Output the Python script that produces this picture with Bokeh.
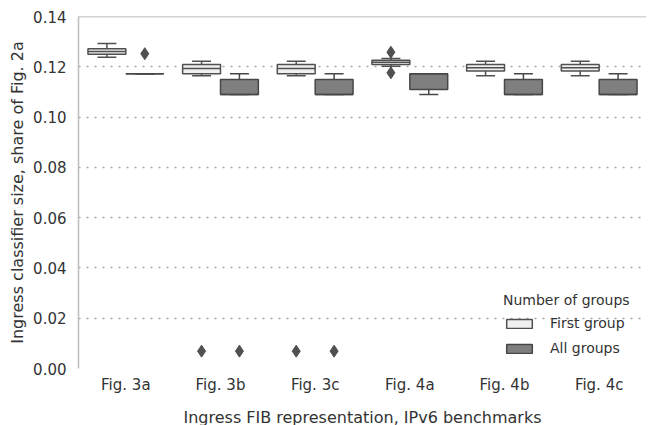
from bokeh.plotting import figure
from bokeh.models import (FactorRange, Range1d, Legend, LegendItem, Span,
                          SingleIntervalTicker, NumeralTickFormatter, ColumnDataSource)
from bokeh.transform import dodge
from bokeh.embed import file_html
from bokeh.resources import INLINE

categories = ["Fig. 3a", "Fig. 3b", "Fig. 3c", "Fig. 4a", "Fig. 4b", "Fig. 4c"]
hues = ["First group", "All groups"]

# First group box statistics
first_low = [0.1238, 0.1164, 0.1164, 0.1202, 0.1164, 0.1164]
first_q1 = [0.1250, 0.1172, 0.1172, 0.1209, 0.1183, 0.1183]
first_med = [0.1261, 0.1193, 0.1193, 0.1218, 0.1196, 0.1196]
first_q3 = [0.1272, 0.1209, 0.1209, 0.1226, 0.1209, 0.1209]
first_high = [0.1293, 0.1222, 0.1222, 0.1233, 0.1222, 0.1222]
first_out_cat = ["Fig. 3b", "Fig. 3c", "Fig. 4a", "Fig. 4a"]
first_out_val = [0.0069, 0.0069, 0.1258, 0.1176]

# All groups box statistics
all_low = [0.1172, 0.1090, 0.1090, 0.1090, 0.1090, 0.1090]
all_q1 = [0.1172, 0.1090, 0.1090, 0.1110, 0.1090, 0.1090]
all_med = [0.1172, 0.1090, 0.1090, 0.1172, 0.1090, 0.1090]
all_q3 = [0.1172, 0.1149, 0.1149, 0.1172, 0.1149, 0.1149]
all_high = [0.1172, 0.1172, 0.1172, 0.1172, 0.1172, 0.1172]
all_out_cat = ["Fig. 3a", "Fig. 3b", "Fig. 3c"]
all_out_val = [0.1252, 0.0069, 0.0069]

FONT = "DejaVu Sans"
TEXT = "#333333"

p = figure(x_range=FactorRange(factors=categories), y_range=Range1d(0, 0.14),
           width=646, height=429, output_backend="svg", toolbar_location=None,
           min_border_left=78, min_border_right=0, min_border_top=16, min_border_bottom=61)
p.outline_line_color = None
p.background_fill_color = "white"
p.border_fill_color = "white"

p.xgrid.grid_line_color = None
p.ygrid.grid_line_color = "#a8a8a8"
p.ygrid.grid_line_dash = "2 6"
p.ygrid.grid_line_width = 1.5

p.yaxis.ticker = SingleIntervalTicker(interval=0.02)
p.yaxis.formatter = NumeralTickFormatter(format="0.00")
p.yaxis.axis_line_color = "#bdbdbd"
p.yaxis.axis_line_width = 1.5
p.yaxis.major_label_standoff = 12
p.yaxis.axis_label = "Ingress classifier size, share of Fig. 2a"
p.yaxis.axis_label_standoff = 3

p.xaxis.axis_line_color = None
p.xaxis.major_label_standoff = 7
p.xaxis.axis_label = "Ingress FIB representation, IPv6 benchmarks"
p.xaxis.axis_label_standoff = 11

for ax in (p.xaxis, p.yaxis):
    ax.major_tick_line_color = None
    ax.minor_tick_line_color = None
    ax.major_tick_out = 0
    ax.major_tick_in = 0
    ax.minor_tick_out = 0
    ax.minor_tick_in = 0
    ax.major_label_text_font = FONT
    ax.major_label_text_font_size = "15px"
    ax.major_label_text_color = TEXT
    ax.axis_label_text_font = FONT
    ax.axis_label_text_font_size = "16px"
    ax.axis_label_text_font_style = "normal"
    ax.axis_label_text_color = TEXT

p.add_layout(Span(location=0.14, dimension="width", line_color="#a8a8a8", line_width=1.5))

specs = [
    (-0.2, first_low, first_q1, first_med, first_q3, first_high, "#f0f0f0", "#505050"),
    (0.2, all_low, all_q1, all_med, all_q3, all_high, "#7f7f7f", "#474747"),
]
box_renderers = []
for off, lo, q1, med, q3, hi, fill, edge in specs:
    src = ColumnDataSource(dict(cat=categories, lo=lo, q1=q1, med=med, q3=q3, hi=hi))
    xc = dodge("cat", off, range=p.x_range)
    xl = dodge("cat", off - 0.1, range=p.x_range)
    xr = dodge("cat", off + 0.1, range=p.x_range)
    p.segment(x0=xc, y0="q3", x1=xc, y1="hi", source=src, line_color=edge, line_width=1.5)
    p.segment(x0=xc, y0="lo", x1=xc, y1="q1", source=src, line_color=edge, line_width=1.5)
    p.segment(x0=xl, y0="hi", x1=xr, y1="hi", source=src, line_color=edge, line_width=1.5)
    p.segment(x0=xl, y0="lo", x1=xr, y1="lo", source=src, line_color=edge, line_width=1.5)
    r = p.vbar(x=xc, width=0.4, top="q3", bottom="q1", source=src,
               fill_color=fill, line_color=edge, line_width=1.5)
    box_renderers.append(r)
    bl = dodge("cat", off - 0.2, range=p.x_range)
    br = dodge("cat", off + 0.2, range=p.x_range)
    p.segment(x0=bl, y0="med", x1=br, y1="med", source=src, line_color=edge, line_width=1.5)

for off, oc, ov in [(-0.2, first_out_cat, first_out_val), (0.2, all_out_cat, all_out_val)]:
    osrc = ColumnDataSource(dict(cat=oc, val=ov))
    p.scatter(x=dodge("cat", off, range=p.x_range), y="val", source=osrc,
              marker="diamond", size=12, fill_color="#505050", line_color="#505050")

legend = Legend(items=[LegendItem(label=hues[0], renderers=[box_renderers[0]]),
                       LegendItem(label=hues[1], renderers=[box_renderers[1]])],
                title="Number of groups", location=(425, 12))
legend.background_fill_alpha = 0
legend.border_line_color = None
legend.padding = 0
legend.margin = 0
legend.glyph_width = 32
legend.glyph_height = 11
legend.label_standoff = 15
legend.spacing = 9
legend.title_standoff = 7
legend.title_text_font = FONT
legend.title_text_font_style = "normal"
legend.title_text_font_size = "14px"
legend.title_text_color = TEXT
legend.label_text_font = FONT
legend.label_text_font_size = "14px"
legend.label_text_color = TEXT
p.add_layout(legend)

open("out.html", "w").write(file_html(p, INLINE))
